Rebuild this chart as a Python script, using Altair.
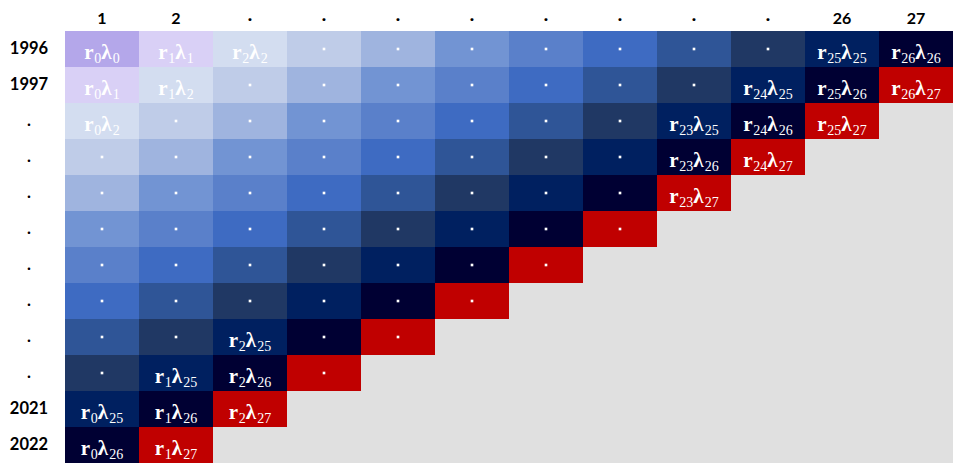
import altair as alt
import pandas as pd

# ---- data ----
col_labels = ["1", "2", "·", "·", "·", "·", "·", "·", "·", "·", "26", "27"]
row_labels = ["1996", "1997", ".", ".", ".", ".", ".", ".", ".", ".", "2021", "2022"]

# colour of each anti-diagonal (row + col); the last one is the red diagonal
diag_colors = ["#b4a7ea", "#d9d0f6", "#d3ddf0", "#bfcce8", "#9fb4df", "#7294d3",
               "#5a80ca", "#3e6bc2", "#2f5597", "#203864", "#002060", "#000033",
               "#c00000"]
blank_color = "#e0e0e0"

# labelled cells: grid row, grid column, r index, lambda index
label_rows = [0, 0, 0, 0, 0, 1, 1, 1, 1, 1, 2, 2, 2, 2, 3, 3, 4, 8, 9, 9, 10, 10, 10, 11, 11]
label_cols = [0, 1, 2, 10, 11, 0, 1, 9, 10, 11, 0, 8, 9, 10, 8, 9, 8, 2, 1, 2, 0, 1, 2, 0, 1]
r_index = ["0", "1", "2", "25", "26", "0", "1", "24", "25", "26", "0", "23", "24", "25",
           "23", "24", "23", "2", "1", "2", "0", "1", "2", "0", "1"]
lam_index = ["0", "1", "2", "25", "26", "1", "2", "25", "26", "27", "2", "25", "26", "27",
             "26", "27", "27", "25", "25", "26", "25", "26", "27", "26", "27"]

# ---- layout constants (pixels) ----
GRID_W, GRID_H = 888, 432
LEFT, TOP = 57, 23
n = len(col_labels)
cw, rh = GRID_W / n, GRID_H / n
MAIN_SIZE, SUB_SIZE = 21, 14
LAB_SIZE = 16
w_r, w_lam, w_digit = 10.0, 11.5, 7.0
main_base, sub_base = 9.5, 13.5   # baselines below cell centre
head_base, rowlab_off = 7, 36      # header baseline above grid / row label centre left of grid

# ---- tables ----
labelled = set(zip(label_rows, label_cols))
cells = []
for r in range(n):
    for c in range(n):
        d = r + c
        active = d < len(diag_colors)
        cells.append({"c0": c, "c1": c + 1, "r0": r, "r1": r + 1,
                      "cx": c + 0.5, "cy": r + 0.5,
                      "fill": diag_colors[d] if active else blank_color,
                      "dot": active and (r, c) not in labelled})
cells = pd.DataFrame(cells)

parts = []
for r, c, a, b in zip(label_rows, label_cols, r_index, lam_index):
    total = w_r + w_digit * len(a) + w_lam + w_digit * len(b)
    x0 = c + 0.5 - total / 2 / cw
    offs = [0, w_r, w_r + w_digit * len(a), w_r + w_digit * len(a) + w_lam]
    for o, t, k in zip(offs, ["r", a, "λ", b], ["main", "sub", "main", "sub"]):
        parts.append({"x": x0 + o / cw,
                      "y": r + 0.5 + (main_base if k == "main" else sub_base) / rh,
                      "t": t, "kind": k})
parts = pd.DataFrame(parts)

heads = pd.DataFrame({"x": [i + 0.5 for i in range(n)],
                      "y": [-head_base / rh] * n,
                      "t": col_labels})
rowlabs = pd.DataFrame({"x": [-rowlab_off / cw] * n,
                        "y": [i + 0.5 for i in range(n)],
                        "t": row_labels})

# the plot area also holds the header row and the row-label column
xs = alt.Scale(domain=[-LEFT / cw, n], nice=False, zero=False)
ys = alt.Scale(domain=[-TOP / rh, n], nice=False, zero=False, reverse=True)
X = lambda f: alt.X(f, scale=xs, axis=None)
Y = lambda f: alt.Y(f, scale=ys, axis=None)

rects = alt.Chart(cells).mark_rect(strokeWidth=0).encode(
    x=X("c0:Q"), x2="c1:Q", y=Y("r0:Q"), y2="r1:Q",
    fill=alt.Fill("fill:N", scale=None))

dots = alt.Chart(cells).transform_filter("datum.dot").mark_square(
    size=7, color="white", opacity=1, filled=True).encode(x=X("cx:Q"), y=Y("cy:Q"))

main_txt = alt.Chart(parts).transform_filter("datum.kind == 'main'").mark_text(
    font="Liberation Serif", fontSize=MAIN_SIZE, fontWeight="bold", color="white",
    align="left", baseline="alphabetic").encode(x=X("x:Q"), y=Y("y:Q"), text="t:N")

sub_txt = alt.Chart(parts).transform_filter("datum.kind == 'sub'").mark_text(
    font="Liberation Serif", fontSize=SUB_SIZE, fontWeight="normal", color="white",
    align="left", baseline="alphabetic").encode(x=X("x:Q"), y=Y("y:Q"), text="t:N")

head_txt = alt.Chart(heads).mark_text(
    font="Lato", fontSize=LAB_SIZE, fontWeight="bold", color="black",
    align="center", baseline="alphabetic").encode(x=X("x:Q"), y=Y("y:Q"), text="t:N")

row_txt = alt.Chart(rowlabs).mark_text(
    font="Lato", fontSize=LAB_SIZE + 0.5, fontWeight="bold", color="black",
    align="center", baseline="middle").encode(x=X("x:Q"), y=Y("y:Q"), text="t:N")

chart = alt.layer(rects, dots, main_txt, sub_txt, head_txt, row_txt).properties(
    width=GRID_W + LEFT, height=GRID_H + TOP,
    padding=0,
    autosize=alt.AutoSizeParams(type="none")
).configure_view(stroke=None)

chart.save("out.html", embed_options={"renderer": "svg", "actions": False})
